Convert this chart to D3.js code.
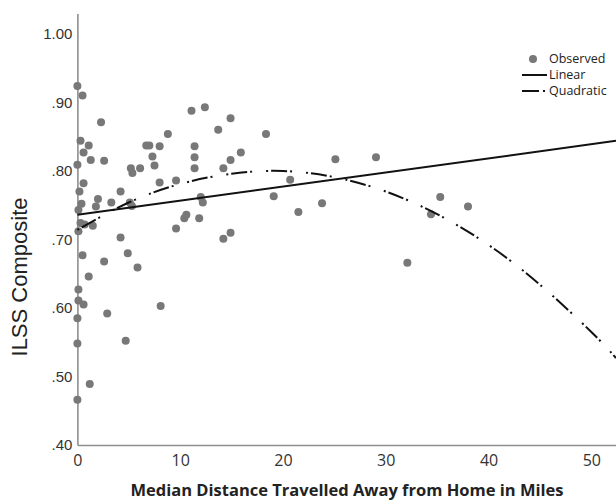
<!DOCTYPE html>
<html>
<head>
<meta charset="utf-8">
<script src="https://cdn.jsdelivr.net/npm/d3@7"></script>
<style>
  body { margin: 0; background: #fff; }
  svg { display: block; }
</style>
</head>
<body>
<div id="chart"></div>
<script>
// Observed points: median distance (miles) and ILSS composite
const distance = [
    0, 0.5, 0.3, 1.1, 0.6, 1.3, 0, 0.6, 0.2, 0.4, 0.1, 0.3, 0.7, 1.5, 0.1, 0.5, 1.1, 0.1, 0.1, 0.6, 0, 0, 1.2, 0,
    2.3, 2.6, 2.0, 1.8, 3.3, 4.2, 4.2, 4.9, 5.85, 2.9, 4.7, 8.1, 2.6, 5.2, 5.35, 6.1, 5.1, 5.3,
    6.7, 7.0, 7.3, 7.5, 8.0, 8.0, 8.8, 9.6, 9.6, 10.4, 10.6,
    11.1, 12.4, 11.4, 11.4, 11.4, 11.85, 12.0, 12.2, 13.7, 14.9, 14.2, 14.9, 15.9, 14.2, 14.9,
    18.35, 19.1, 20.7, 21.5, 23.8, 25.1, 29.05, 32.1, 34.4, 35.3, 38.0
];
const ilss = [
    0.924, 0.910, 0.844, 0.837, 0.827, 0.816, 0.809, 0.782, 0.770, 0.752, 0.743, 0.724, 0.722, 0.720, 0.712, 0.677, 0.646, 0.627, 0.611, 0.605, 0.585, 0.548, 0.489, 0.466,
    0.871, 0.815, 0.759, 0.748, 0.754, 0.770, 0.703, 0.680, 0.659, 0.592, 0.552, 0.603, 0.668, 0.804, 0.797, 0.804, 0.754, 0.749,
    0.837, 0.837, 0.821, 0.808, 0.836, 0.783, 0.854, 0.786, 0.716, 0.731, 0.736,
    0.888, 0.893, 0.836, 0.820, 0.804, 0.731, 0.762, 0.754, 0.860, 0.877, 0.804, 0.816, 0.827, 0.701, 0.710,
    0.854, 0.763, 0.787, 0.740, 0.753, 0.817, 0.820, 0.666, 0.737, 0.762, 0.748
];

// Fitted lines, read at a few x positions from the picture
const linearX = [0, 52.4];
const linearY = [0.736, 0.844];
const quadX = [0, 5, 10, 15, 20, 25, 30, 35, 40, 45, 50, 52.4];
const quadY = [0.714, 0.754, 0.781, 0.796, 0.800, 0.791, 0.770, 0.737, 0.692, 0.634, 0.565, 0.527];

// Axis ticks
const xTicks = [0, 10, 20, 30, 40, 50];
const yTicks = [0.4, 0.5, 0.6, 0.7, 0.8, 0.9, 1.0];
const yTickLabels = [".40", ".50", ".60", ".70", ".80", ".90", "1.00"];

const legendLabels = ["Observed", "Linear", "Quadratic"];

const width = 616, height = 502;

const svg = d3.select("#chart")
    .append("svg")
    .attr("width", width)
    .attr("height", height);

const x = d3.scaleLinear().domain([0, 52.4]).range([77.4, 616]);
const y = d3.scaleLinear().domain([0.40, 1.03]).range([445, 13.4]);

// Y axis
const yAxis = svg.append("g")
    .attr("transform", `translate(${x(0)},0)`)
    .call(d3.axisLeft(y)
        .tickValues(yTicks)
        .tickSize(0)
        .tickPadding(5)
        .tickFormat((d, i) => yTickLabels[i]));
yAxis.select(".domain").attr("stroke", "#8e8e8e").attr("stroke-width", 1.6);
yAxis.selectAll("text")
    .style("font-family", "'Liberation Sans', Arial, sans-serif")
    .style("font-size", "15px")
    .attr("fill", "#333");

// X axis
const xAxis = svg.append("g")
    .attr("transform", `translate(0,${y(0.40)})`)
    .call(d3.axisBottom(x)
        .tickValues(xTicks)
        .tickSize(0)
        .tickPadding(10)
        .tickFormat(d3.format("d")));
xAxis.select(".domain").attr("stroke", "#8e8e8e").attr("stroke-width", 1.6);
xAxis.selectAll("text")
    .style("font-family", "'Open Sans', sans-serif")
    .style("font-size", "16px")
    .attr("fill", "#333");

// Points
const pts = distance.map((d, i) => ({x: d, y: ilss[i]}));
svg.selectAll(".dot")
    .data(pts)
    .enter()
    .append("circle")
    .attr("class", "dot")
    .attr("cx", d => x(d.x))
    .attr("cy", d => y(d.y))
    .attr("r", 4)
    .attr("fill", "#787878");

// Linear fit
const line = d3.line().x(d => x(d[0])).y(d => y(d[1]));
svg.append("path")
    .datum(linearX.map((d, i) => [d, linearY[i]]))
    .attr("d", line)
    .attr("fill", "none")
    .attr("stroke", "#111")
    .attr("stroke-width", 2);

// Quadratic fit
svg.append("path")
    .datum(quadX.map((d, i) => [d, quadY[i]]))
    .attr("d", line.curve(d3.curveNatural))
    .attr("fill", "none")
    .attr("stroke", "#111")
    .attr("stroke-width", 2)
    .attr("stroke-dasharray", "2,3,16,3,2,14");

// Axis titles
svg.append("text")
    .attr("transform", "translate(27,277) rotate(-90)")
    .attr("text-anchor", "middle")
    .style("font-family", "'Liberation Sans', Arial, sans-serif")
    .style("font-size", "22px")
    .attr("fill", "#222")
    .text("ILSS Composite");

svg.append("text")
    .attr("x", 347)
    .attr("y", 496)
    .attr("text-anchor", "middle")
    .style("font-family", "'Open Sans', sans-serif")
    .style("font-size", "16.5px")
    .style("font-weight", "bold")
    .attr("fill", "#222")
    .text("Median Distance Travelled Away from Home in Miles");

// Legend
const legend = svg.append("g").attr("transform", "translate(522,59)");
legend.append("circle").attr("cx", 11).attr("cy", 0).attr("r", 4).attr("fill", "#787878");
legend.append("line").attr("x1", 0).attr("x2", 25).attr("y1", 16).attr("y2", 16)
    .attr("stroke", "#111").attr("stroke-width", 2);
legend.append("line").attr("x1", 0).attr("x2", 25).attr("y1", 32).attr("y2", 32)
    .attr("stroke", "#111").attr("stroke-width", 2)
    .attr("stroke-dasharray", "17,4,2,10");
legend.selectAll(".leg")
    .data(legendLabels)
    .enter()
    .append("text")
    .attr("x", 27)
    .attr("y", (d, i) => i * 16)
    .attr("dy", "0.35em")
    .style("font-family", "'Open Sans', sans-serif")
    .style("font-size", "12.5px")
    .attr("fill", "#222")
    .text(d => d);
</script>
</body>
</html>
